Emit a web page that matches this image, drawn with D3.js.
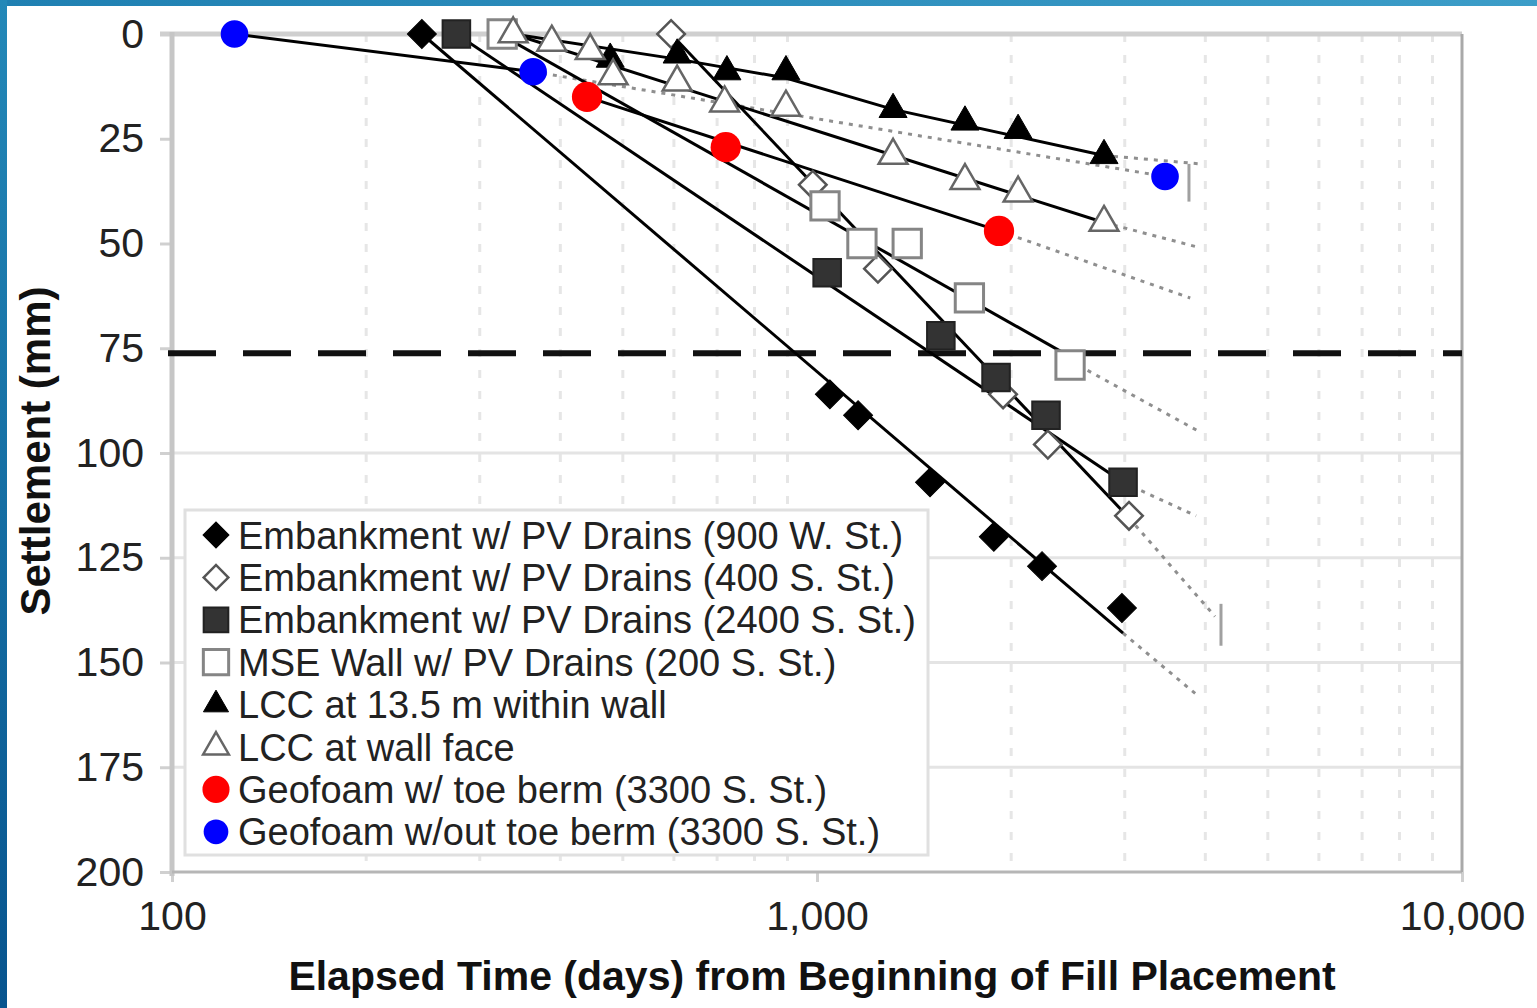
<!DOCTYPE html>
<html>
<head>
<meta charset="utf-8">
<script src="https://cdn.jsdelivr.net/npm/d3@7"></script>
<style>
  html, body { margin: 0; padding: 0; background: #fff; }
  svg { display: block; }
  text { font-family: "Liberation Sans", Arial, sans-serif; }
</style>
</head>
<body>
<svg id="chart" width="1537" height="1008"></svg>
<script>
(function () {
    'use strict';

    var seriesNames = [
        'Embankment w/ PV Drains (900 W. St.)',
        'Embankment w/ PV Drains (400 S. St.)',
        'Embankment w/ PV Drains (2400 S. St.)',
        'MSE Wall w/ PV Drains (200 S. St.)',
        'LCC at 13.5 m within wall',
        'LCC at wall face',
        'Geofoam w/ toe berm (3300 S. St.)',
        'Geofoam w/out toe berm (3300 S. St.)'
    ];

    // measured points, [days, settlement mm]
    var embank900W = [[244, 0], [1047, 86], [1158, 91], [1497, 107], [1880, 120], [2233, 127], [2970, 137]];
    var embank400S = [[594, 0], [985, 36], [1243, 56], [1943, 86], [2280, 98], [3046, 115]];
    var embank2400S = [[276, 0], [1037, 57], [1556, 72], [1895, 82], [2265, 91], [2982, 107]];
    var mseWall200S = [[325, 0], [1029, 41], [1174, 50], [1380, 50], [1723, 63], [2468, 79]];
    var lccWithin = [[388, 2], [478, 6], [607, 5], [725, 9], [895, 9], [1312, 18], [1696, 21], [2050, 23], [2786, 29]];
    var lccFace = [[338, 0], [388, 2], [445, 4], [483, 10], [607, 11.5], [719, 16.5], [895, 17.5], [1312, 29], [1696, 35], [2050, 38], [2786, 45]];
    var geofoamBerm = [[440, 15], [722, 27], [1915, 47]];
    var geofoamNoBerm = [[125, 0], [363, 9], [3464, 34]];

    var seriesPoints = [embank900W, embank400S, embank2400S, mseWall200S,
        lccWithin, lccFace, geofoamBerm, geofoamNoBerm];

    // fitted (solid) and projected (dotted) lines, same units
    var trendLines = [
        [[244, 0], [2982, 143]],
        [[594, 0], [3046, 115.5]],
        [[276, 0], [2982, 107]],
        [[322, 0], [2468, 77]],
        [[338, 0], [607, 6], [895, 10.5], [1312, 18], [2786, 29]],
        [[338, 0], [2786, 45]],
        [[440, 15], [1915, 47]],
        [[125, 0], [363, 9]]
    ];
    var forecastLines = [
        [[2982, 143], [3900, 158]],
        [[3046, 115.5], [4140, 139]],
        [[2982, 107], [3870, 115]],
        [[2468, 78], [3925, 95]],
        [[2786, 29], [3925, 31]],
        [[2786, 45], [3925, 51]],
        [[1915, 47], [3790, 63]],
        [[363, 9], [3464, 34]]
    ];
    var endBars = [[3773, 31, 40], [4230, 136, 146]];

    var limitSettlement = 76.2;
    var yTicks = [0, 25, 50, 75, 100, 125, 150, 175, 200];
    var yGridValues = [100, 125, 150, 175];
    var xTicks = [100, 1000, 10000];
    var xGridValues = [200, 300, 400, 500, 600, 700, 800, 900,
        2000, 3000, 4000, 5000, 6000, 7000, 8000, 9000];

    var markerStyles = [
        { type: 'diamond', fill: '#000', stroke: '#000', width: 1, size: 420 },
        { type: 'diamond', fill: '#fff', stroke: '#555', width: 2.5, size: 380 },
        { type: 'square', fill: '#333', stroke: '#222', width: 2, size: 760 },
        { type: 'square', fill: '#fff', stroke: '#858585', width: 3, size: 800 },
        { type: 'triangle', fill: '#000', stroke: '#000', width: 1, size: 340 },
        { type: 'triangle', fill: '#fff', stroke: '#666', width: 2.5, size: 360 },
        { type: 'circle', fill: '#ff0000', stroke: 'none', width: 0, size: 720 },
        { type: 'circle', fill: '#0000ff', stroke: 'none', width: 0, size: 600 }
    ];

    var svg = d3.select('#chart');

    var x = d3.scaleLog().domain([100, 10000]).range([172, 1462]);
    var y = d3.scaleLinear().domain([0, 200]).range([34, 872]);

    // blue frame along top and left edge
    var defs = svg.append('defs');
    var gTop = defs.append('linearGradient').attr('id', 'frameTop')
        .attr('x1', 0).attr('y1', 0).attr('x2', 1).attr('y2', 0);
    gTop.append('stop').attr('offset', 0).attr('stop-color', '#1f80b2');
    gTop.append('stop').attr('offset', 1).attr('stop-color', '#3c9dc8');
    var gLeft = defs.append('linearGradient').attr('id', 'frameLeft')
        .attr('x1', 0).attr('y1', 0).attr('x2', 0).attr('y2', 1);
    gLeft.append('stop').attr('offset', 0).attr('stop-color', '#2388b8');
    gLeft.append('stop').attr('offset', 1).attr('stop-color', '#07548e');

    svg.append('rect').attr('width', 1537).attr('height', 1008).style('fill', '#fff');
    svg.append('rect').attr('width', 1537).attr('height', 6).style('fill', 'url(#frameTop)');
    svg.append('rect').attr('width', 7).attr('height', 1008).style('fill', 'url(#frameLeft)');

    // grid
    var grid = svg.append('g');
    grid.selectAll('line.vgrid')
        .data(xGridValues)
        .enter().append('line')
        .attr('class', 'vgrid')
        .attr('x1', function (d) { return x(d); })
        .attr('x2', function (d) { return x(d); })
        .attr('y1', y(0))
        .attr('y2', y(200))
        .style('stroke', '#e6e6e6')
        .style('stroke-width', 3)
        .style('stroke-dasharray', '8,13');

    grid.selectAll('line.hgrid')
        .data(yGridValues)
        .enter().append('line')
        .attr('class', 'hgrid')
        .attr('x1', x(100))
        .attr('x2', x(10000))
        .attr('y1', function (d) { return y(d); })
        .attr('y2', function (d) { return y(d); })
        .style('stroke', '#e4e4e4')
        .style('stroke-width', 3);

    // axes
    var yAxis = svg.append('g')
        .attr('transform', 'translate(' + x(100) + ',0)')
        .call(d3.axisLeft(y).tickValues(yTicks).tickSize(12).tickPadding(16));
    var xAxis = svg.append('g')
        .attr('transform', 'translate(0,' + y(200) + ')')
        .call(d3.axisBottom(x).tickValues(xTicks).tickFormat(d3.format(',')).tickSize(10).tickPadding(19));

    [yAxis, xAxis].forEach(function (ax) {
        ax.select('.domain').remove();
        ax.selectAll('.tick line').style('stroke', '#d0d0d0').style('stroke-width', 3);
        ax.selectAll('.tick text')
            .style('font-size', '41px')
            .style('fill', '#222');
    });

    // plot frame
    svg.append('line')
        .attr('x1', x(100) - 12).attr('x2', x(10000))
        .attr('y1', y(0)).attr('y2', y(0))
        .style('stroke', '#cfcfcf').style('stroke-width', 5);
    svg.append('line')
        .attr('x1', x(100)).attr('x2', x(100))
        .attr('y1', y(0) - 2).attr('y2', y(200) + 4)
        .style('stroke', '#c6c6c6').style('stroke-width', 5);
    svg.append('line')
        .attr('x1', x(100)).attr('x2', x(10000))
        .attr('y1', y(200)).attr('y2', y(200))
        .style('stroke', '#b6b6b6').style('stroke-width', 3);
    svg.append('line')
        .attr('x1', x(10000)).attr('x2', x(10000))
        .attr('y1', y(0)).attr('y2', y(200))
        .style('stroke', '#a9a9a9').style('stroke-width', 3);

    // 3 inch settlement limit
    svg.append('line')
        .attr('x1', x(100) - 4).attr('x2', x(10000))
        .attr('y1', y(limitSettlement)).attr('y2', y(limitSettlement))
        .style('stroke', '#111')
        .style('stroke-width', 6)
        .style('stroke-dasharray', '48,27');

    var line = d3.line()
        .x(function (d) { return x(d[0]); })
        .y(function (d) { return y(d[1]); });

    var lines = svg.append('g');
    lines.selectAll('path.forecast')
        .data(forecastLines)
        .enter().append('path')
        .attr('class', 'forecast')
        .attr('d', line)
        .style('fill', 'none')
        .style('stroke', '#8f8f8f')
        .style('stroke-width', 3)
        .style('stroke-dasharray', '4,6');

    lines.selectAll('line.bar')
        .data(endBars)
        .enter().append('line')
        .attr('class', 'bar')
        .attr('x1', function (d) { return x(d[0]); })
        .attr('x2', function (d) { return x(d[0]); })
        .attr('y1', function (d) { return y(d[1]); })
        .attr('y2', function (d) { return y(d[2]); })
        .style('stroke', '#a0a0a0')
        .style('stroke-width', 3);

    lines.selectAll('path.trend')
        .data(trendLines)
        .enter().append('path')
        .attr('class', 'trend')
        .attr('d', line)
        .style('fill', 'none')
        .style('stroke', '#000')
        .style('stroke-width', 3);

    function symbolFor(style, scale) {
        var types = { diamond: d3.symbolSquare, square: d3.symbolSquare,
            triangle: d3.symbolTriangle, circle: d3.symbolCircle };
        return d3.symbol().type(types[style.type]).size(style.size * (scale || 1))();
    }

    function drawMarker(sel, style, scale) {
        sel.append('path')
            .attr('d', symbolFor(style, scale))
            .attr('transform', function () {
                return style.type === 'diamond' ? 'rotate(45)' : null;
            })
            .style('fill', style.fill)
            .style('stroke', style.stroke)
            .style('stroke-width', style.width);
    }

    var marks = svg.append('g');
    seriesPoints.forEach(function (pts, i) {
        var g = marks.append('g');
        g.selectAll('g.pt')
            .data(pts)
            .enter().append('g')
            .attr('class', 'pt')
            .attr('transform', function (d) {
                return 'translate(' + x(d[0]) + ',' + y(d[1]) + ')';
            })
            .each(function () { drawMarker(d3.select(this), markerStyles[i]); });
    });

    // legend
    var legend = svg.append('g');
    legend.append('rect')
        .attr('x', 185).attr('y', 510)
        .attr('width', 743).attr('height', 345)
        .style('fill', '#fff')
        .style('stroke', '#e0e0e0')
        .style('stroke-width', 3);

    var rows = legend.selectAll('g.row')
        .data(seriesNames)
        .enter().append('g')
        .attr('class', 'row')
        .attr('transform', function (d, i) { return 'translate(216,' + (535 + i * 42.4) + ')'; });

    rows.each(function (d, i) { drawMarker(d3.select(this), markerStyles[i], 0.8); });
    rows.append('text')
        .attr('x', 22)
        .attr('dy', '0.36em')
        .style('font-size', '38px')
        .style('fill', '#222')
        .text(function (d) { return d; });

    // axis titles
    svg.append('text')
        .attr('transform', 'translate(35,451) rotate(-90)')
        .attr('text-anchor', 'middle')
        .attr('dy', '0.36em')
        .style('font-size', '42px')
        .style('font-weight', 'bold')
        .style('fill', '#111')
        .text('Settlement (mm)');

    svg.append('text')
        .attr('x', 812)
        .attr('y', 990)
        .attr('text-anchor', 'middle')
        .style('font-size', '41px')
        .style('font-weight', 'bold')
        .style('fill', '#111')
        .text('Elapsed Time (days) from Beginning of Fill Placement');
})();
</script>
</body>
</html>
